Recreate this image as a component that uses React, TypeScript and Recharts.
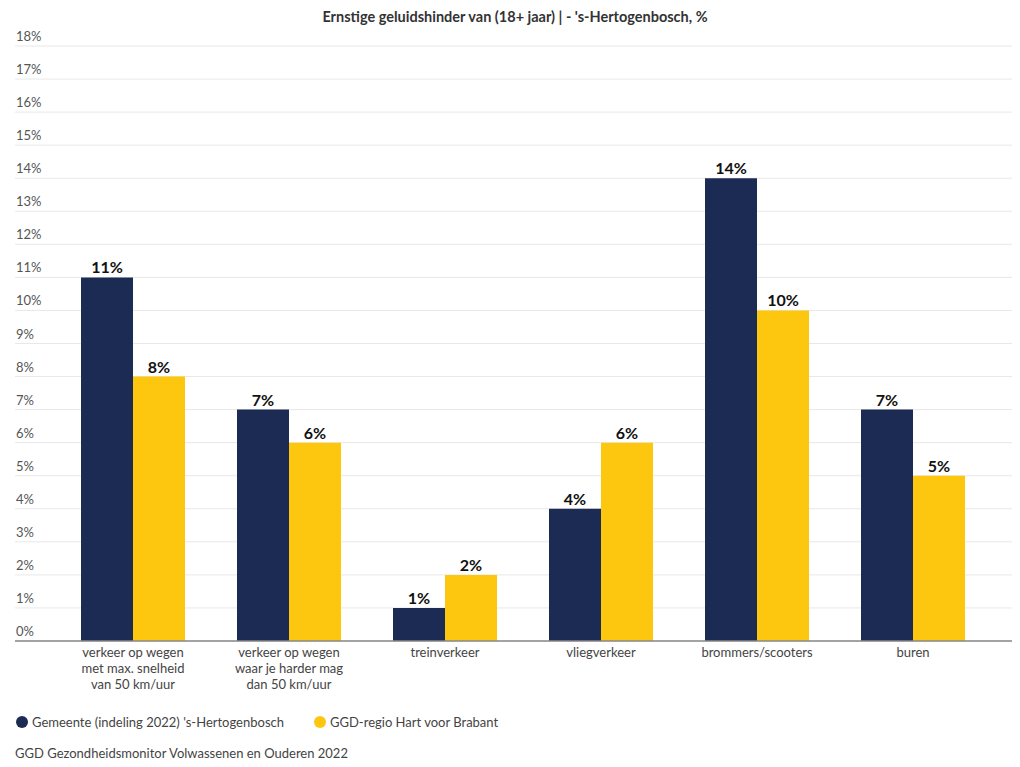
import React from 'react';
import { BarChart, Bar, XAxis, YAxis, CartesianGrid, LabelList } from 'recharts';

const categories = [
  'verkeer op wegen\nmet max. snelheid\nvan 50 km/uur',
  'verkeer op wegen\nwaar je harder mag\ndan 50 km/uur',
  'treinverkeer',
  'vliegverkeer',
  'brommers/scooters',
  'buren',
];
const gemeente = [11, 7, 1, 4, 14, 7];
const regio = [8, 6, 2, 6, 10, 5];
const yTicks = [0, 1, 2, 3, 4, 5, 6, 7, 8, 9, 10, 11, 12, 13, 14, 15, 16, 17, 18];
const seriesNames = ["Gemeente (indeling 2022) 's-Hertogenbosch", 'GGD-regio Hart voor Brabant'];
const title = "Ernstige geluidshinder van (18+ jaar) | - 's-Hertogenbosch, %";
const source = 'GGD Gezondheidsmonitor Volwassenen en Ouderen 2022';

const NAVY = '#1c2b53';
const YELLOW = '#fec70f';
const FONT = 'Lato, "Noto Sans", sans-serif';

const data = categories.map((c, i) => ({ cat: c, a: gemeente[i], b: regio[i] }));

const YTick = (props: any) => {
  const { y, payload } = props;
  return (
    <text x={16} y={y - 5} fontSize={13} fill="#555" fontFamily={FONT} textAnchor="start">
      {payload.value}%
    </text>
  );
};

const XTick = (props: any) => {
  const { x, y, payload } = props;
  const lines = String(payload.value).split('\n');
  return (
    <text x={x} y={y + 8} fontSize={13} fill="#444" fontFamily={FONT} textAnchor="middle">
      {lines.map((l, i) => (
        <tspan key={i} x={x} dy={i === 0 ? 0 : 16}>{l}</tspan>
      ))}
    </text>
  );
};

export default function App() {
  return (
    <div style={{ position: 'absolute', left: 0, top: 0, width: 1020, height: 767, background: '#fff', fontFamily: FONT }}>
      <div style={{ position: 'absolute', top: 8, left: 0, width: 1030, textAlign: 'center', fontSize: 14.5, fontWeight: 700, color: '#333' }}>
        {title}
      </div>
      <BarChart
        width={1020}
        height={700}
        data={data}
        margin={{ top: 46, right: 8, left: 15, bottom: 0 }}
        barCategoryGap="16.67%"
        barGap={0}
      >
        <CartesianGrid horizontal vertical={false} stroke="#e8e8e8" />
        <XAxis
          dataKey="cat"
          interval={0}
          height={59}
          padding={{ left: 40, right: 21 }}
          tickLine={false}
          axisLine={{ stroke: '#888', strokeWidth: 1.5 }}
          tick={<XTick />}
        />
        <YAxis
          mirror
          width={60}
          domain={[0, 18]}
          ticks={yTicks}
          interval={0}
          axisLine={false}
          tickLine={false}
          tick={<YTick />}
        />
        <Bar dataKey="a" fill={NAVY} isAnimationActive={false}>
          <LabelList dataKey="a" position="top" offset={4} formatter={(v: any) => `${v}%`} fill="#111" fontSize={16} fontWeight={700} fontFamily={FONT} />
        </Bar>
        <Bar dataKey="b" fill={YELLOW} isAnimationActive={false}>
          <LabelList dataKey="b" position="top" offset={4} formatter={(v: any) => `${v}%`} fill="#111" fontSize={16} fontWeight={700} fontFamily={FONT} />
        </Bar>
      </BarChart>
      <div style={{ position: 'absolute', top: 714, left: 16, display: 'flex', alignItems: 'center', fontSize: 13, color: '#444' }}>
        <span style={{ width: 12, height: 12, borderRadius: 6, background: NAVY, display: 'inline-block', marginRight: 4 }} />
        <span style={{ marginRight: 30 }}>{seriesNames[0]}</span>
        <span style={{ width: 12, height: 12, borderRadius: 6, background: YELLOW, display: 'inline-block', marginRight: 4 }} />
        <span>{seriesNames[1]}</span>
      </div>
      <div style={{ position: 'absolute', top: 745, left: 15, fontSize: 13, color: '#444' }}>{source}</div>
    </div>
  );
}
